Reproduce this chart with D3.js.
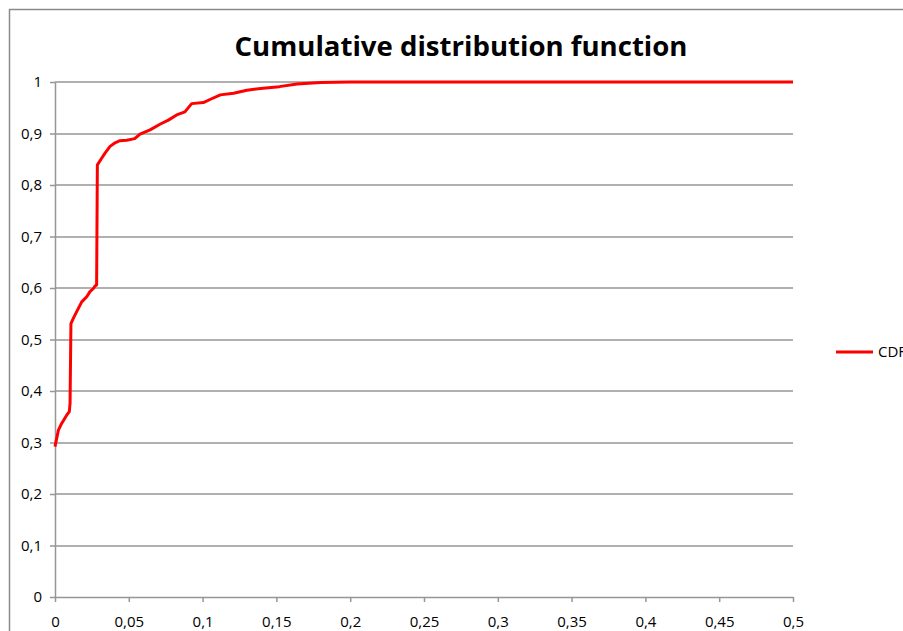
<!DOCTYPE html>
<html>
<head>
<meta charset="utf-8">
<script src="https://cdn.jsdelivr.net/npm/d3@7/dist/d3.min.js"></script>
<style>
  html, body { margin: 0; padding: 0; background: #fff; overflow: hidden; }
  svg { display: block; }
</style>
</head>
<body>
<svg id="chart" width="903" height="631"></svg>
<script>
// Empirical CDF samples (x value, cumulative probability)
const cdfX = [0, 0.0023, 0.0045, 0.0079, 0.0097, 0.0102, 0.0108, 0.0124, 0.0147, 0.0181,
  0.0215, 0.0237, 0.026, 0.0271, 0.0282, 0.0287, 0.0316, 0.0339, 0.0373, 0.0407,
  0.044, 0.0486, 0.054, 0.0576, 0.0644, 0.0711, 0.0768, 0.0824, 0.088, 0.0926,
  0.1005, 0.105, 0.112, 0.121, 0.13, 0.141, 0.152, 0.164, 0.18, 0.2, 0.5];
const cdfY = [0.292, 0.324, 0.337, 0.353, 0.36, 0.376, 0.531, 0.541, 0.554, 0.573,
  0.583, 0.593, 0.599, 0.604, 0.606, 0.839, 0.852, 0.862, 0.875, 0.882,
  0.886, 0.887, 0.890, 0.899, 0.907, 0.918, 0.926, 0.936, 0.942, 0.958,
  0.960, 0.966, 0.975, 0.978, 0.984, 0.988, 0.991, 0.996, 0.999, 1.0, 1.0];
const xTicks = [0, 0.05, 0.1, 0.15, 0.2, 0.25, 0.3, 0.35, 0.4, 0.45, 0.5];
const yTicks = [0, 0.1, 0.2, 0.3, 0.4, 0.5, 0.6, 0.7, 0.8, 0.9, 1];
const seriesName = "CDF";
const chartTitle = "Cumulative distribution function";

const svg = d3.select("#chart");
const gridColor = "#969696";
const fontFamily = "'Open Sans', 'Noto Sans', sans-serif";
const fmt = v => String(v).replace(".", ",");

// Chart frame
svg.append("path")
  .attr("d", "M9.5,640 V9.5 H920")
  .attr("fill", "none")
  .attr("stroke", "#8a8a8a")
  .attr("stroke-width", 1.5);

const x = d3.scaleLinear().domain([0, 0.5]).range([55, 793]);
const y = d3.scaleLinear().domain([0, 1]).range([597, 82]);

// Horizontal gridlines
svg.append("g")
  .selectAll("line")
  .data(yTicks.filter(d => d > 0))
  .join("line")
  .attr("x1", x(0)).attr("x2", x(0.5))
  .attr("y1", d => Math.round(y(d)))
  .attr("y2", d => Math.round(y(d)))
  .attr("stroke", gridColor).attr("stroke-width", 1.5);

// Y axis
const yAxis = svg.append("g")
  .attr("transform", `translate(${x(0)},0)`)
  .call(d3.axisLeft(y).tickValues(yTicks).tickFormat(fmt).tickSize(5).tickSizeOuter(0));
yAxis.select(".domain").attr("stroke", gridColor).attr("stroke-width", 1.5);
yAxis.selectAll(".tick line").attr("stroke", gridColor).attr("stroke-width", 1.5);
yAxis.selectAll(".tick text")
  .attr("x", -13)
  .attr("fill", "#000")
  .style("font-family", fontFamily)
  .style("font-size", "15px");

// X axis
const xAxis = svg.append("g")
  .attr("transform", `translate(0,${Math.round(y(0))})`)
  .call(d3.axisBottom(x).tickValues(xTicks).tickFormat(fmt).tickSize(5).tickSizeOuter(0));
xAxis.select(".domain").attr("stroke", gridColor).attr("stroke-width", 1.5);
xAxis.selectAll(".tick line").attr("stroke", gridColor).attr("stroke-width", 1.5);
xAxis.selectAll(".tick text")
  .attr("y", 19)
  .attr("fill", "#000")
  .style("font-family", fontFamily)
  .style("font-size", "15px");

// CDF curve
const pts = cdfX.map((v, i) => [v, cdfY[i]]);
svg.append("path")
  .datum(pts)
  .attr("fill", "none")
  .attr("stroke", "#ff0000")
  .attr("stroke-width", 3)
  .attr("stroke-linejoin", "round")
  .attr("d", d3.line().x(d => x(d[0])).y(d => y(d[1])));

// Title
svg.append("text")
  .attr("x", 461).attr("y", 56)
  .attr("text-anchor", "middle")
  .attr("textLength", 453)
  .attr("lengthAdjust", "spacingAndGlyphs")
  .style("font-family", fontFamily)
  .style("font-weight", "bold")
  .style("font-size", "26px")
  .text(chartTitle);

// Legend
const legend = svg.append("g").attr("transform", "translate(836,352)");
legend.append("line")
  .attr("x1", 0).attr("x2", 37)
  .attr("stroke", "#ff0000").attr("stroke-width", 3);
legend.append("text")
  .attr("x", 42).attr("y", 5)
  .style("font-family", fontFamily)
  .style("font-size", "15px")
  .text(seriesName);
</script>
</body>
</html>
